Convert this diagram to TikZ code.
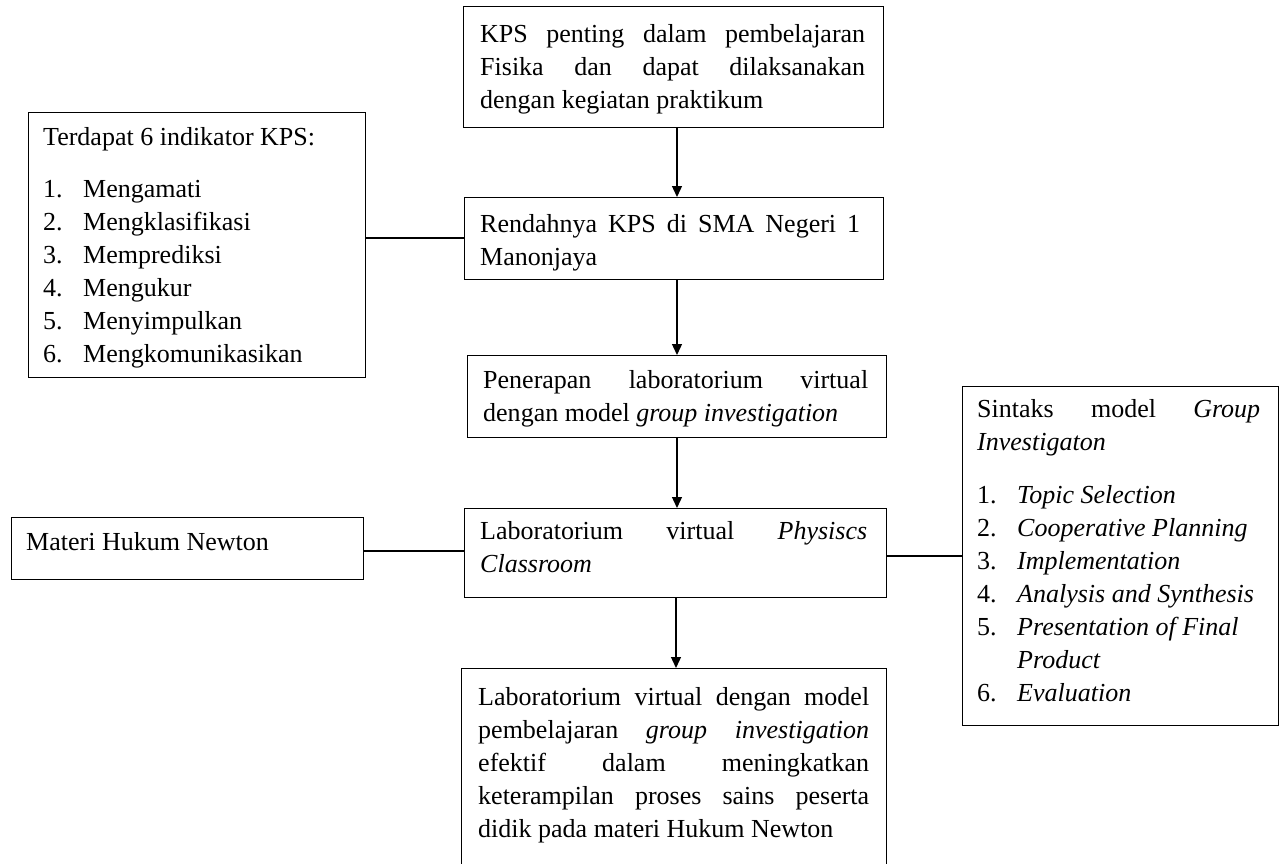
\documentclass[tikz,border=0pt]{standalone}
\usepackage{fontspec}
\setmainfont{Liberation Serif}
\usetikzlibrary{arrows.meta}
\tikzset{
  box/.style={draw=black, line width=1.4pt, inner sep=0pt, anchor=north west},
  txt/.style={inner sep=0pt, anchor=north west, align=justify,
    font=\fontsize{26}{33}\selectfont},
  lst/.style={inner sep=0pt, anchor=north west, align=left,
    font=\fontsize{26}{33}\selectfont},
  conn/.style={draw=black, line width=1.3pt},
  arr/.style={conn, -{Triangle[width=10pt,length=11pt]}}
}
\newcommand{\itm}[1]{\makebox[40pt][l]{#1}}
\begin{document}
\begin{tikzpicture}[x=1pt,y=-1pt]
\useasboundingbox (0,0) rectangle (1285,863);
\clip (0,0) rectangle (1285,863);
% boxes
\node[box, minimum width=420pt, minimum height=121pt] (b1) at (463,6) {};
\node[box, minimum width=337pt, minimum height=265pt] (bL) at (28,112) {};
\node[box, minimum width=419pt, minimum height=82pt] (b2) at (464,197) {};
\node[box, minimum width=419pt, minimum height=82pt] (b3) at (467,355) {};
\node[box, minimum width=352pt, minimum height=62pt] (bM) at (11,517) {};
\node[box, minimum width=422pt, minimum height=89pt] (b4) at (464,508) {};
\node[box, minimum width=316pt, minimum height=339pt] (bR) at (962,386) {};
\node[box, minimum width=425pt, minimum height=240pt] (b5) at (461,668) {};
% texts
\node[txt, text width=385pt] (t1) at (480,{42-23.1}) {\strut KPS penting dalam pembelajaran\linebreak Fisika dan dapat dilaksanakan\linebreak dengan kegiatan praktikum};
\node[lst] (tL) at (43,{145-23.1}) {\strut Terdapat 6 indikator KPS:\\[19pt]
\itm{1.}Mengamati\\
\itm{2.}Mengklasifikasi\\
\itm{3.}Memprediksi\\
\itm{4.}Mengukur\\
\itm{5.}Menyimpulkan\\
\itm{6.}Mengkomunikasikan};
\node[txt, text width=380pt] (t2) at (480,{232-23.1}) {\strut Rendahnya KPS di SMA Negeri 1\linebreak Manonjaya};
\node[txt, text width=385pt] (t3) at (483,{388-23.1}) {\strut Penerapan laboratorium virtual\linebreak dengan model \textit{group investigation}};
\node[lst] (tM) at (26,{550-23.1}) {\strut Materi Hukum Newton};
\node[txt, text width=387pt] (t4) at (480,{539-23.1}) {\strut Laboratorium virtual \textit{Physiscs}\linebreak \textit{Classroom}};
\node[txt, text width=283pt] (tR) at (977,{417-23.1}) {\strut Sintaks model \textit{Group}\linebreak \textit{Investigaton}};
\node[lst] (tR2) at (977,{503-23.1}) {\strut \itm{1.}\textit{Topic Selection}\\
\itm{2.}\textit{Cooperative Planning}\\
\itm{3.}\textit{Implementation}\\
\itm{4.}\textit{Analysis and Synthesis}\\
\itm{5.}\textit{Presentation of Final}\\
\itm{}\textit{Product}\\
\itm{6.}\textit{Evaluation}};
\node[txt, text width=391pt] (t5) at (478,{705-23.1}) {\strut Laboratorium virtual dengan model\linebreak pembelajaran \textit{group investigation}\linebreak efektif dalam meningkatkan\linebreak keterampilan proses sains peserta\linebreak didik pada materi Hukum Newton};
% connector helpers
\coordinate (ax) at (677,0);
\coordinate (ax2) at (676,0);
\coordinate (yL) at (0,238);
\coordinate (yM) at (0,551);
\coordinate (yR) at (0,556);
% arrows
\draw[arr] (b1.south -| ax) -- (b2.north -| ax);
\draw[arr] (b2.south -| ax) -- (b3.north -| ax);
\draw[arr] (b3.south -| ax) -- (b4.north -| ax);
\draw[arr] (b4.south -| ax2) -- (b5.north -| ax2);
% lines
\draw[conn] (bL.east |- yL) -- (b2.west |- yL);
\draw[conn] (bM.east |- yM) -- (b4.west |- yM);
\draw[conn] (b4.east |- yR) -- (bR.west |- yR);
\end{tikzpicture}
\end{document}
